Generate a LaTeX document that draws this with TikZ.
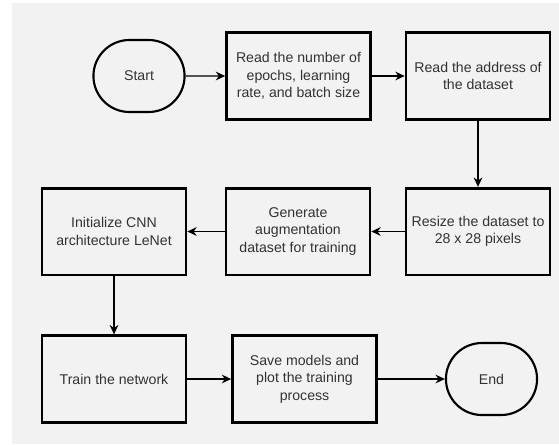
\documentclass[tikz,border=0pt]{standalone}
\usepackage{fontspec}
\setmainfont{Liberation Sans}
\usepackage{xcolor}
\usetikzlibrary{arrows.meta,positioning,shapes.misc}
\definecolor{paneltint}{RGB}{242,242,242}
\definecolor{inktext}  {RGB}{50,50,50}

\begin{document}
\begin{tikzpicture}[
  x=0.75pt, y=-0.75pt, >={Stealth[length=7pt,width=6.5pt]},
  font=\fontsize{10.6}{13.2}\selectfont,
  stepbox/.style={draw=black, line width=2pt, fill=paneltint, text=inktext,
    minimum width=108pt, minimum height=65pt, align=center, inner sep=2pt},
  term/.style={draw=black, line width=1.6pt, fill=paneltint, text=inktext,
    rounded rectangle, minimum width=75pt, minimum height=54pt},
  flow/.style={->, line width=1.1pt},
]

% Canvas
\useasboundingbox (0,0) rectangle (559,444);
\fill[paneltint] (12,3) rectangle (559,444);

% Top row
\node[term]     (start) at (139,76)    {Start};
\node[stepbox]  (read)  at (298.5,76)  {Read the number of\\epochs, learning\\rate, and batch size};
\node[stepbox]  (addr)  at (478,76)    {Read the address of\\the dataset};

% Middle row
\node[stepbox]  (resize) at (478,231.5) {Resize the dataset to\\28 x 28 pixels};
\node[stepbox]  (augm)   at (298,231.5) {Generate\\augmentation\\dataset for training};
\node[stepbox]  (init)   at (114,231.5) {Initialize CNN\\architecture LeNet};

% Bottom row
\node[stepbox]  (train) at (114,379)   {Train the network};
\node[stepbox]  (save)  at (304.5,379) {Save models and\\plot the training\\process};
\node[term]     (stop)  at (491.5,379) {End};

% Connectors
\draw[flow] (start) -- (read);
\draw[flow] (read)  -- (addr);
\draw[flow] (addr)  -- (resize);
\draw[flow] (resize) -- (augm);
\draw[flow] (augm)  -- (init);
\draw[flow] (init)  -- (train);
\draw[flow] (train) -- (save);
\draw[flow] (save)  -- (stop);

\end{tikzpicture}
\end{document}
